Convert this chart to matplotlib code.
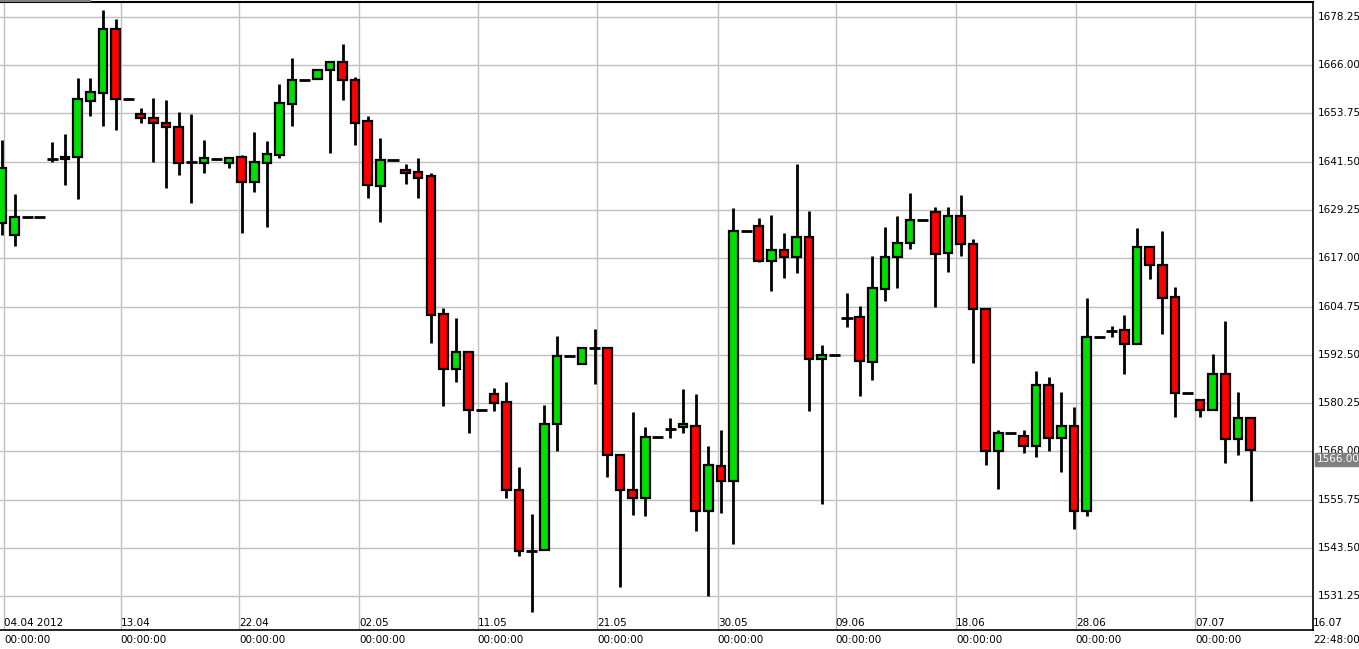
import matplotlib
matplotlib.use("Agg")
import matplotlib.pyplot as plt
from matplotlib.patches import Rectangle

opens = [1626.0,1623.0,1627.4,1627.4,1642.2,1642.2,1642.7,1657.0,1659.0,1675.1,
         1657.5,1653.7,1652.6,1651.2,1650.3,1641.4,1641.2,1642.3,1641.1,1642.6,
         1636.4,1641.2,1643.2,1656.2,1662.1,1662.5,1664.8,1666.8,1662.2,1651.8,
         1635.4,1641.8,1639.5,1638.9,1637.8,1602.8,1589.0,1593.3,1578.6,1582.6,
         1580.5,1558.2,1542.8,1543.1,1574.9,1592.3,1590.2,1594.2,1594.2,1567.1,
         1558.3,1556.2,1571.7,1573.8,1574.1,1574.5,1552.9,1564.2,1560.6,1623.8,
         1625.3,1616.3,1619.2,1617.3,1622.3,1591.4,1592.5,1601.8,1602.0,1590.7,
         1609.1,1617.3,1620.8,1626.7,1628.7,1618.4,1627.7,1620.7,1604.1,1568.2,
         1572.7,1571.8,1569.5,1584.8,1571.5,1574.4,1552.9,1596.9,1598.6,1598.8,
         1595.2,1619.9,1615.2,1607.2,1582.9,1581.0,1578.5,1587.6,1571.1,1576.5]
highs = [1646.9,1633.3,1627.4,1627.4,1646.6,1648.6,1662.8,1662.6,1680.0,1677.7,
         1657.5,1655.2,1657.7,1657.1,1654.1,1653.6,1647.1,1642.3,1642.7,1643.2,
         1649.1,1646.7,1661.2,1667.7,1662.1,1664.8,1666.8,1671.4,1662.9,1653.1,
         1647.4,1641.8,1640.9,1642.5,1638.5,1604.4,1601.8,1593.3,1578.6,1584.2,
         1585.7,1564.0,1552.1,1579.8,1597.4,1592.3,1594.2,1599.0,1594.2,1567.1,
         1578.0,1574.3,1571.7,1576.4,1583.9,1582.6,1569.5,1573.5,1629.8,1623.8,
         1627.2,1628.0,1623.4,1640.9,1629.0,1595.1,1592.5,1608.2,1604.9,1617.6,
         1624.8,1627.7,1633.6,1626.7,1630.0,1630.0,1633.1,1621.9,1604.4,1573.4,
         1572.7,1573.4,1588.3,1586.9,1583.1,1579.2,1607.0,1596.9,1599.7,1602.5,
         1624.6,1619.9,1623.8,1609.6,1582.9,1581.3,1592.8,1601.0,1583.1,1576.7]
lows = [1623.0,1620.1,1627.4,1627.4,1641.4,1635.5,1632.0,1653.1,1650.5,1649.5,
        1657.5,1651.2,1641.4,1634.7,1638.1,1631.1,1638.6,1642.3,1639.8,1623.3,
        1633.9,1624.9,1642.5,1650.5,1662.1,1662.5,1643.8,1657.1,1645.8,1632.4,
        1626.3,1641.8,1635.8,1632.3,1595.4,1579.4,1585.7,1572.6,1578.6,1578.2,
        1556.1,1541.5,1527.2,1543.1,1568.1,1592.3,1590.2,1585.0,1561.4,1533.6,
        1551.8,1551.6,1571.7,1571.5,1572.6,1547.9,1531.4,1552.3,1544.6,1623.8,
        1616.1,1608.8,1612.0,1613.2,1578.2,1554.6,1592.5,1599.5,1582.1,1586.1,
        1606.1,1609.4,1619.4,1626.7,1604.7,1613.4,1617.6,1590.5,1564.5,1558.4,
        1572.7,1567.6,1566.6,1568.2,1562.9,1548.2,1551.5,1596.9,1597.0,1587.6,
        1595.2,1611.8,1597.9,1576.8,1582.9,1576.8,1578.5,1565.0,1567.1,1555.3]
closes = [1640.0,1627.4,1627.4,1627.4,1642.2,1642.6,1657.4,1659.1,1675.1,1657.4,
          1657.5,1652.6,1651.2,1650.2,1641.2,1641.4,1642.4,1642.3,1642.4,1636.4,
          1641.4,1643.4,1656.4,1662.2,1662.1,1664.8,1666.8,1662.1,1651.3,1635.7,
          1641.8,1641.8,1638.7,1637.4,1602.6,1589.0,1593.3,1578.5,1578.6,1580.2,
          1558.2,1542.8,1542.5,1574.9,1592.3,1592.3,1594.2,1594.2,1567.1,1558.2,
          1556.2,1571.7,1571.7,1573.8,1574.9,1552.9,1564.5,1560.6,1623.8,1623.8,
          1616.3,1619.2,1617.3,1622.3,1591.4,1592.5,1592.5,1601.8,1590.9,1609.4,
          1617.3,1620.9,1626.7,1626.7,1618.0,1627.7,1620.7,1604.1,1568.2,1572.7,
          1572.7,1569.5,1584.8,1571.5,1574.5,1552.9,1596.9,1596.9,1598.6,1595.2,
          1619.9,1615.2,1607.0,1582.9,1582.9,1578.5,1587.6,1571.1,1576.5,1568.3]

date_labels = ["04.04 2012","13.04","22.04","02.05","11.05","21.05","30.05",
               "09.06","18.06","28.06","07.07","16.07"]
time_labels = ["00:00:00"]*11 + ["22:48:00"]
label_pos = [0.16,9.41,18.81,28.30,37.71,47.19,56.76,66.09,75.65,85.14,94.62,103.95]
yticks = [1678.25,1666.00,1653.75,1641.50,1629.25,1617.00,1604.75,1592.50,
          1580.25,1568.00,1555.75,1543.50,1531.25]
last_price = 1566.00

W, H = 1359, 649
fig = plt.figure(figsize=(W/100, H/100), dpi=100)
ax = fig.add_axes([0, 1-630/H, 1313/W, 628/H])
ax.set_xlim(-0.16, 103.95)
ax.set_ylim(1522.7, 1682.0)

for xp in label_pos:
    ax.axvline(xp, color="#c0c0c0", lw=1, zorder=0)
for yv in yticks:
    ax.axhline(yv, color="#c0c0c0", lw=1, zorder=0)

bw = 0.68
for i, (o, h, l, c) in enumerate(zip(opens, highs, lows, closes)):
    ax.plot([i, i], [l, h], color="black", lw=2, zorder=2, solid_capstyle="butt")
    if abs(c - o) < 0.3:
        ax.plot([i-bw/2-0.1, i+bw/2+0.1], [o, o], color="black", lw=2, zorder=3,
                solid_capstyle="butt")
    else:
        col = "#00e000" if c > o else "#ff0000"
        ax.add_patch(Rectangle((i-bw/2, min(o, c)), bw, abs(c-o), facecolor=col,
                               edgecolor="black", lw=1.6, zorder=3))

ax.set_xticks([]); ax.set_yticks([])
for s in ["left", "top"]:
    ax.spines[s].set_visible(False)
ax.spines["right"].set_linewidth(1.2)
ax.spines["bottom"].set_linewidth(1.2)
ax.axhline(1682.0, color="black", lw=1.5, clip_on=False)
fig.add_artist(plt.Line2D([0, 90/W], [1-0.5/H, 1-0.5/H], color="#808080", lw=1.5))

fs = 7.5
for yv in yticks:
    ax.text(1.004, (yv-1522.7)/(1682.0-1522.7), f"{yv:.2f}", transform=ax.transAxes,
            ha="left", va="center", fontsize=fs, color="black")
ax.text(1.003, (last_price-1522.7)/(1682.0-1522.7), f"{last_price:.2f}",
        transform=ax.transAxes, ha="left", va="center", fontsize=fs, color="white",
        bbox=dict(boxstyle="square,pad=0.15", facecolor="#808080", edgecolor="#808080"))

for xp, d, t in zip(label_pos, date_labels, time_labels):
    ax.text(xp, 1522.7 + 0.6, d, ha="left", va="bottom", fontsize=fs)
    ax.text(xp, 1522.7 - 1.2, t, ha="left", va="top", fontsize=fs, clip_on=False)

fig.savefig("out.png", dpi=100)
